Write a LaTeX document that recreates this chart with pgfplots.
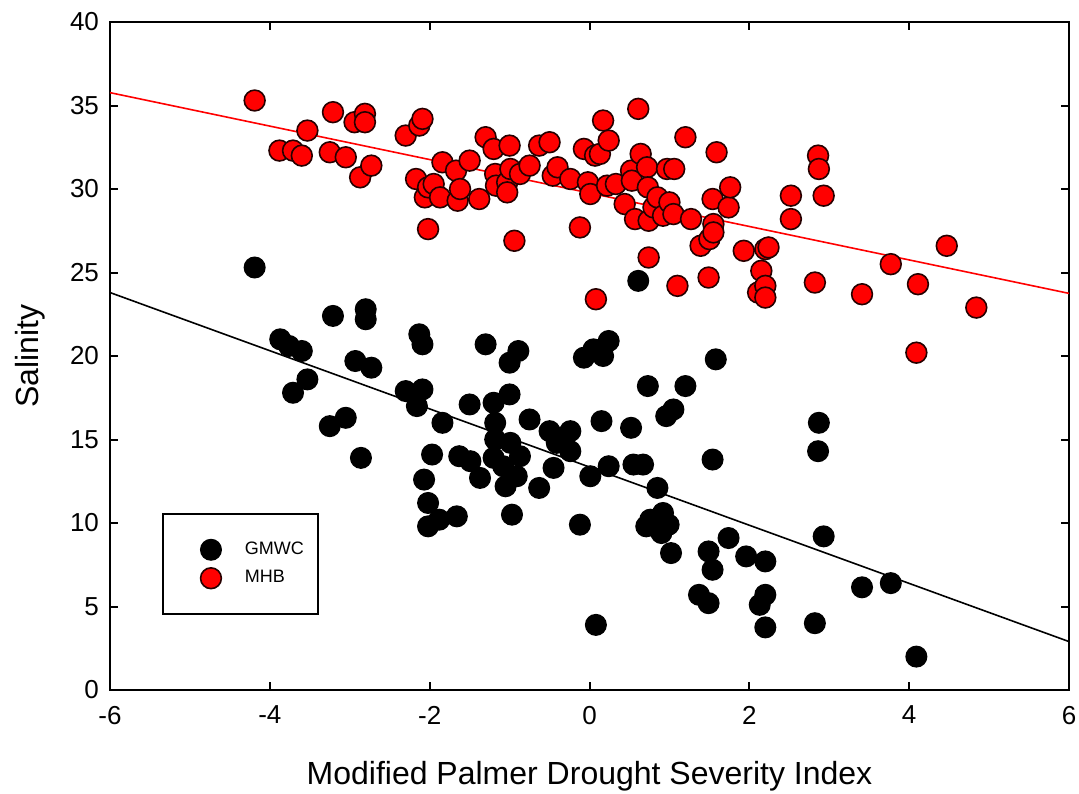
\documentclass[border=0pt]{standalone}
\usepackage{pgfplots}
\pgfplotsset{compat=1.18}
\usepackage{fontspec}
\setmainfont{Liberation Sans}

% Salinity vs. drought index, two stations
\pgfplotstableread{
x y
-4.19 25.3
-3.87 21.0
-3.76 20.6
-3.60 20.3
-3.53 18.6
-3.71 17.8
-3.25 15.8
-3.21 22.4
-3.05 16.3
-2.93 19.7
-2.86 13.9
-2.80 22.8
-2.80 22.2
-2.73 19.3
-2.30 17.9
-2.16 17.0
-2.13 21.3
-2.09 20.7
-2.09 18.0
-2.07 12.6
-2.02 11.2
-2.02 9.8
-1.97 14.1
-1.88 10.2
-1.84 16.0
-1.66 10.4
-1.63 14.0
-1.50 17.1
-1.49 13.7
-1.37 12.7
-1.30 20.7
-1.20 17.2
-1.20 13.9
-1.18 16.0
-1.18 15.0
-1.08 13.4
-1.05 12.2
-1.00 17.7
-1.00 19.6
-0.99 14.8
-0.97 10.5
-0.91 12.8
-0.89 20.3
-0.87 14.0
-0.75 16.2
-0.63 12.1
-0.50 15.5
-0.45 13.3
-0.41 14.8
-0.24 15.5
-0.24 14.3
-0.12 9.9
-0.07 19.9
0.01 12.8
0.05 20.4
0.08 3.9
0.15 16.1
0.17 20.0
0.24 20.9
0.24 13.4
0.52 15.7
0.55 13.5
0.61 24.5
0.67 13.5
0.71 9.8
0.73 18.2
0.76 10.2
0.85 12.1
0.90 9.4
0.92 10.6
0.96 16.4
0.99 9.9
1.02 8.2
1.05 16.8
1.20 18.2
1.37 5.7
1.49 8.3
1.49 5.2
1.54 13.8
1.54 7.2
1.58 19.8
1.74 9.1
1.96 8.0
2.13 5.1
2.20 5.7
2.20 7.7
2.20 3.75
2.82 4.0
2.86 14.3
2.87 16.0
2.93 9.2
3.41 6.15
3.77 6.4
4.09 2.0
}\gmwc

\pgfplotstableread{
x y
-4.19 35.3
-3.88 32.3
-3.71 32.3
-3.60 32.0
-3.53 33.5
-3.25 32.2
-3.21 34.6
-3.05 31.9
-2.94 34.0
-2.87 30.7
-2.81 34.5
-2.81 34.0
-2.73 31.4
-2.30 33.2
-2.17 30.6
-2.13 33.8
-2.09 34.2
-2.06 29.5
-2.02 30.1
-2.02 27.6
-1.95 30.3
-1.87 29.5
-1.84 31.6
-1.67 31.1
-1.65 29.3
-1.62 30.0
-1.50 31.7
-1.38 29.4
-1.30 33.1
-1.20 32.4
-1.18 30.9
-1.17 30.2
-1.03 30.4
-1.03 29.8
-1.00 32.6
-0.99 31.2
-0.94 26.9
-0.87 30.9
-0.75 31.4
-0.63 32.6
-0.50 32.8
-0.46 30.8
-0.40 31.3
-0.24 30.6
-0.12 27.7
-0.07 32.4
-0.02 30.4
0.01 29.7
0.07 32.0
0.08 23.4
0.13 32.1
0.17 34.1
0.22 30.2
0.24 32.9
0.33 30.3
0.44 29.1
0.52 31.1
0.53 30.5
0.57 28.2
0.61 34.8
0.64 32.1
0.72 31.3
0.73 30.1
0.74 28.1
0.74 25.9
0.80 28.9
0.85 29.5
0.92 28.4
0.97 31.2
1.00 29.2
1.05 28.5
1.06 31.2
1.10 24.2
1.20 33.1
1.27 28.2
1.39 26.6
1.49 24.7
1.50 27.0
1.54 29.4
1.55 27.9
1.55 27.4
1.59 32.2
1.74 28.9
1.76 30.1
1.93 26.3
2.11 23.8
2.15 25.1
2.20 26.4
2.24 26.5
2.20 24.2
2.20 23.5
2.52 29.6
2.52 28.2
2.82 24.4
2.86 32.0
2.87 31.2
2.93 29.6
3.41 23.7
3.77 25.5
4.09 20.2
4.11 24.3
4.47 26.6
4.84 22.9
}\mhb

\begin{document}
\begin{tikzpicture}
\begin{axis}[
  scale only axis,
  width=479.5pt, height=334pt,
  xmin=-6, xmax=6, ymin=0, ymax=40,
  xtick={-6,-4,...,6}, ytick={0,5,...,40},
  tick align=inside,
  major tick length=4pt,
  axis line style={line width=1pt},
  every tick/.style={line width=1pt, black},
  tick label style={font=\fontsize{13}{15}\selectfont},
  /pgf/number format/assume math mode=true,
  xticklabel style={yshift=-4.5pt},
  yticklabel style={xshift=-2pt},
  xlabel={Modified Palmer Drought Severity Index},
  ylabel={Salinity},
  label style={font=\fontsize{16}{19}\selectfont},
  xlabel style={at={(axis description cs:0.5,0)}, anchor=center, yshift=-43pt},
  ylabel style={at={(axis description cs:0,0.5)}, anchor=center, yshift=40pt},
  legend image code/.code={%
    \path[draw=none, fill=none] (0pt,-5pt) rectangle (34pt,5pt);
    \draw[#1] plot coordinates {(18pt,0pt)};},
  legend style={at={(0.0542,0.265)}, anchor=north west, draw=black,
    line width=1pt, font=\fontsize{9}{11}\selectfont,
    inner xsep=6pt, inner ysep=12pt, row sep=2.5pt,
    nodes={inner xsep=1pt}},
  legend cell align=left,
  clip=true,
]
\addplot[only marks, mark=*, mark size=5.2pt, mark options={fill=black, draw=black, line width=0.6pt}] table {\gmwc};
\addlegendentry{GMWC}
\addplot[only marks, mark=*, mark size=5.2pt, mark options={fill=red, draw=black!85!red, line width=0.8pt}] table {\mhb};
\addlegendentry{MHB}
\addplot[black, line width=0.8pt, forget plot] coordinates {(-6,23.8) (6,2.9)};
\addplot[red, line width=0.8pt, forget plot] coordinates {(-6,35.77) (6,23.75)};
\end{axis}
\pgfresetboundingbox
\path ([shift={(-55pt,-51.5pt)}]current axis.south west) rectangle ([shift={(5pt,11pt)}]current axis.north east);
\end{tikzpicture}
\end{document}
